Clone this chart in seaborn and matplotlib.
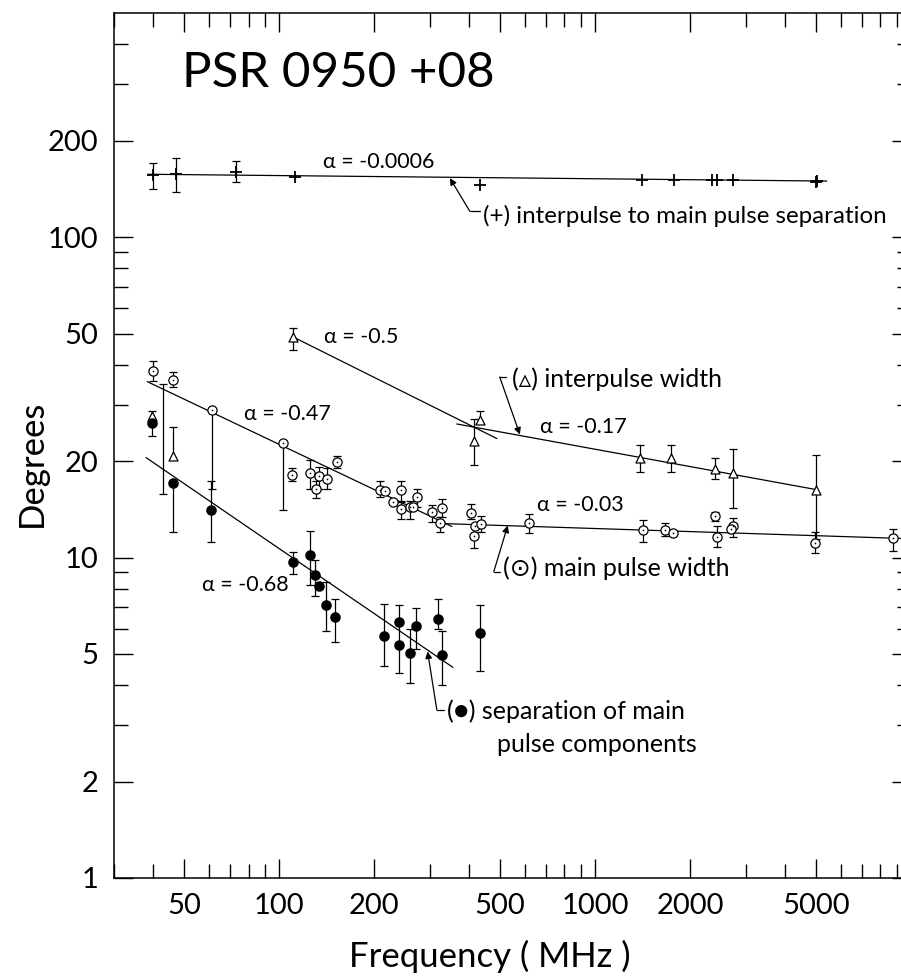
import numpy as np
import pandas as pd
import matplotlib
matplotlib.use("Agg")
import matplotlib.pyplot as plt
import seaborn as sns
from matplotlib.ticker import FixedLocator, FixedFormatter, NullFormatter

nan = np.nan

# (+) interpulse to main pulse separation
sep_freq = [39.8, 47.1, 72.9, 112, 432, 1407, 1776, 2341, 2429, 2728, 4996, 5050]
sep_deg = [156, 157, 159.7, 154, 145, 150.5, 150.5, 150.5, 150.5, 150.5, 148, 150]
sep_lo = [141, 138.5, 148, nan, nan, nan, nan, nan, nan, nan, nan, nan]
sep_hi = [170, 176, 173, nan, nan, nan, nan, nan, nan, nan, nan, nan]

# (triangle) interpulse width
ipw_freq = [39.6, 43.0, 46.1, 110.6, 413, 432, 1386, 1738, 2394, 2730, 4996]
ipw_deg = [27.7, 19.2, 20.8, 48.8, 23.1, 26.9, 20.5, 20.5, 18.9, 18.3, 16.3]
ipw_lo = [nan, 15.8, nan, 44.5, 19.4, 26.2, 18.5, 18.5, 17.6, 14.3, 11.4]
ipw_hi = [nan, 34.8, 25.6, 52.0, 27.0, 28.6, 22.4, 22.4, 20.5, 21.8, 20.9]

# (dot-circle) main pulse width
mpw_freq = [39.8, 46.1, 61.3, 102.8, 109.8, 125, 130.7, 133.6, 141.6, 152,
            208, 216, 229, 243, 243, 259, 265, 273, 304, 327, 323,
            405, 416, 413, 435, 617, 1416, 1663, 1761, 2394, 2430, 2730,
            2690, 4960, 8750]
mpw_deg = [38.2, 35.9, 28.9, 22.8, 18.1, 18.3, 16.4, 18.0, 17.6, 19.9,
           16.3, 16.1, 14.9, 16.3, 14.2, 14.4, 14.4, 15.4, 13.9, 14.3, 12.85,
           13.8, 12.5, 11.7, 12.7, 12.85, 12.2, 12.2, 11.9, 13.5, 11.6, 12.5,
           12.3, 11.1, 11.5]
mpw_lo = [35.5, 34.0, 16.4, 14.1, 17.3, 16.4, 15.3, 16.4, 16.4, 19.0,
          15.5, nan, nan, 15.0, 13.2, 13.2, nan, 14.4, 12.9, 13.4, 12.05,
          13.2, nan, 10.7, 12.05, 11.9, 11.2, 11.7, nan, 13.0, 10.8, 11.6,
          nan, 10.3, 10.5]
mpw_hi = [40.9, 37.9, nan, nan, 19.0, 20.2, 17.3, 19.2, 19.0, 20.8,
          17.3, nan, nan, 17.3, 14.9, 15.0, nan, 16.4, 14.6, 15.2, 13.4,
          14.7, nan, nan, 13.5, 13.7, 13.1, 12.8, nan, 13.9, 12.5, 13.3,
          nan, 12.05, 12.3]

# (filled) separation of main pulse components
comp_freq = [39.6, 46.1, 60.8, 110.6, 125, 129.8, 133.6, 140.6, 150,
             214, 239, 239, 259, 271, 318, 327, 432]
comp_deg = [26.2, 17.1, 14.1, 9.65, 10.2, 8.79, 8.12, 7.09, 6.5,
            5.71, 6.27, 5.32, 5.02, 6.1, 6.41, 4.95, 5.80]
comp_lo = [24.0, 12.05, 11.2, 8.9, 8.2, 7.6, nan, 5.88, 5.44,
           4.58, 4.35, nan, 4.05, 5.2, 5.98, 3.99, 4.44]
comp_hi = [28.7, nan, 17.3, 10.4, 12.1, 9.8, nan, 8.4, 7.44,
           7.18, 7.09, nan, 6.0, 6.97, 7.44, 5.88, 7.09]

# fitted power laws (end points)
fit_names = ["sep", "sep", "ipw1", "ipw1", "ipw2", "ipw2",
             "mpw1", "mpw1", "mpw2", "mpw2", "comp", "comp"]
fit_freq = [38.4, 5413, 110.6, 489, 365, 4996, 38.2, 352, 330, 9800, 37.9, 355]
fit_deg = [157, 149.5, 48.8, 23.5, 26.1, 16.3, 35.4, 12.5, 12.76, 11.45, 20.5, 4.54]

x_major = [50, 100, 200, 500, 1000, 2000, 5000]
x_labels = ["50", "100", "200", "500", "1000", "2000", "5000"]
y_major = [1, 2, 5, 10, 20, 50, 100, 200]
y_labels = ["1", "2", "5", "10", "20", "50", "100", "200"]
subs = [3, 4, 6, 7, 8, 9]

sns.set_style("ticks")
plt.rcParams['font.family'] = ['Lato', 'DejaVu Sans']
plt.rcParams['font.weight'] = 'normal'
plt.rcParams['text.color'] = 'black'
plt.rcParams['axes.labelcolor'] = 'black'
plt.rcParams['xtick.color'] = 'black'
plt.rcParams['ytick.color'] = 'black'
plt.rcParams['axes.edgecolor'] = 'black'

fig = plt.figure(figsize=(9.01, 9.8), dpi=100)
ax = fig.add_axes([0.1265, 0.1041, 0.8846, 0.8826])
ax.set_xscale('log')
ax.set_yscale('log')


def bars(freq, deg, lo, hi, cap=6):
    f = np.array(freq, float)
    d = np.array(deg, float)
    lo = np.array(lo, float)
    hi = np.array(hi, float)
    lo2 = np.where(np.isnan(lo), d, lo)
    hi2 = np.where(np.isnan(hi), d, hi)
    ax.vlines(f, lo2, hi2, color='k', lw=0.9, zorder=2)
    for ends in (lo, hi):
        m = ~np.isnan(ends)
        ax.scatter(f[m], ends[m], marker='_', s=cap ** 2, color='k',
                   linewidths=0.9, zorder=2)


bars(sep_freq, sep_deg, sep_lo, sep_hi)
bars(ipw_freq, ipw_deg, ipw_lo, ipw_hi)
bars(mpw_freq, mpw_deg, mpw_lo, mpw_hi)
bars(comp_freq, comp_deg, comp_lo, comp_hi)

fits = pd.DataFrame({"fit": fit_names, "freq": fit_freq, "deg": fit_deg})
sns.lineplot(data=fits, x="freq", y="deg", units="fit", estimator=None,
             sort=False, color='k', lw=0.9, ax=ax, zorder=3)

sns.scatterplot(x=sep_freq, y=sep_deg, marker='+', s=70, color='k',
                linewidth=1.3, ax=ax, zorder=4)
sns.scatterplot(x=ipw_freq[:1] + ipw_freq[2:], y=ipw_deg[:1] + ipw_deg[2:],
                marker='^', s=42, facecolor='white', edgecolor='k',
                linewidth=0.9, ax=ax, zorder=4)
sns.scatterplot(x=mpw_freq, y=mpw_deg, marker='o', s=44, facecolor='white',
                edgecolor='k', linewidth=0.9, ax=ax, zorder=4)
sns.scatterplot(x=mpw_freq, y=mpw_deg, marker='o', s=1.5, color='k',
                linewidth=0, ax=ax, zorder=5)
sns.scatterplot(x=comp_freq, y=comp_deg, marker='o', s=58, color='k',
                linewidth=0, ax=ax, zorder=4)

ax.set_xlim(30, 10000)
ax.set_ylim(1, 500)

ax.xaxis.set_major_locator(FixedLocator(x_major))
ax.xaxis.set_major_formatter(FixedFormatter(x_labels))
ax.yaxis.set_major_locator(FixedLocator(y_major))
ax.yaxis.set_major_formatter(FixedFormatter(y_labels))
ax.xaxis.set_minor_locator(matplotlib.ticker.LogLocator(subs=subs, numticks=20))
ax.yaxis.set_minor_locator(matplotlib.ticker.LogLocator(subs=subs, numticks=20))
ax.xaxis.set_minor_formatter(NullFormatter())
ax.yaxis.set_minor_formatter(NullFormatter())
ax.tick_params(which='both', direction='in', top=True, right=True,
               width=1.0, labelsize=21, pad=11)
ax.tick_params(which='major', length=14)
ax.tick_params(which='minor', length=10)
for s in ax.spines.values():
    s.set_visible(True)
    s.set_linewidth(1.1)

ax.set_xlabel("Frequency ( MHz )", fontsize=25)
ax.set_ylabel("Degrees", fontsize=25)
ax.xaxis.set_label_coords(0.472, -0.071)
ax.yaxis.set_label_coords(-0.083, 0.479)

ax.text(49.2, 324, "PSR 0950 +08", fontsize=35.5, va='center', ha='left')

lbl = dict(fontsize=15.5, va='center', ha='left')
ax.text(137.3, 171, "α = -0.0006", **lbl)
ax.text(138.3, 48.8, "α = -0.5", **lbl)
ax.text(77.2, 28.1, "α = -0.47", **lbl)
ax.text(56.8, 8.18, "α = -0.68", **lbl)
ax.text(668, 25.6, "α = -0.17", **lbl)
ax.text(654, 14.6, "α = -0.03", **lbl)

note = dict(fontsize=18, va='center', ha='left')
ax.text(441, 116.3, "(+) interpulse to main pulse separation",
        fontsize=17.4, va='center', ha='left')
ax.text(545, 35.9, "(▵) interpulse width", **note)
ax.text(510, 9.24, "(⊙) main pulse width", **note)
ax.text(339, 3.31, "(●) separation of main", **note)
ax.text(489, 2.60, "pulse components", **note)

arrow = dict(arrowstyle='-|>', color='k', lw=0.9, mutation_scale=10,
             shrinkA=0, shrinkB=0)
# (corner, tip, stub end)
pointers = [((401, 120.5), (347, 152.7), 432),
            ((499, 36.6), (578, 24.2), 522),
            ((478, 9.04), (529, 12.58), 499),
            ((315.6, 3.34), (295, 5.09), 332)]
for corner, tip, stub in pointers:
    ax.annotate("", xy=tip, xytext=corner, arrowprops=arrow)
    ax.plot([corner[0], stub], [corner[1], corner[1]], color='k', lw=0.9)

fig.savefig("out.png", dpi=100)
